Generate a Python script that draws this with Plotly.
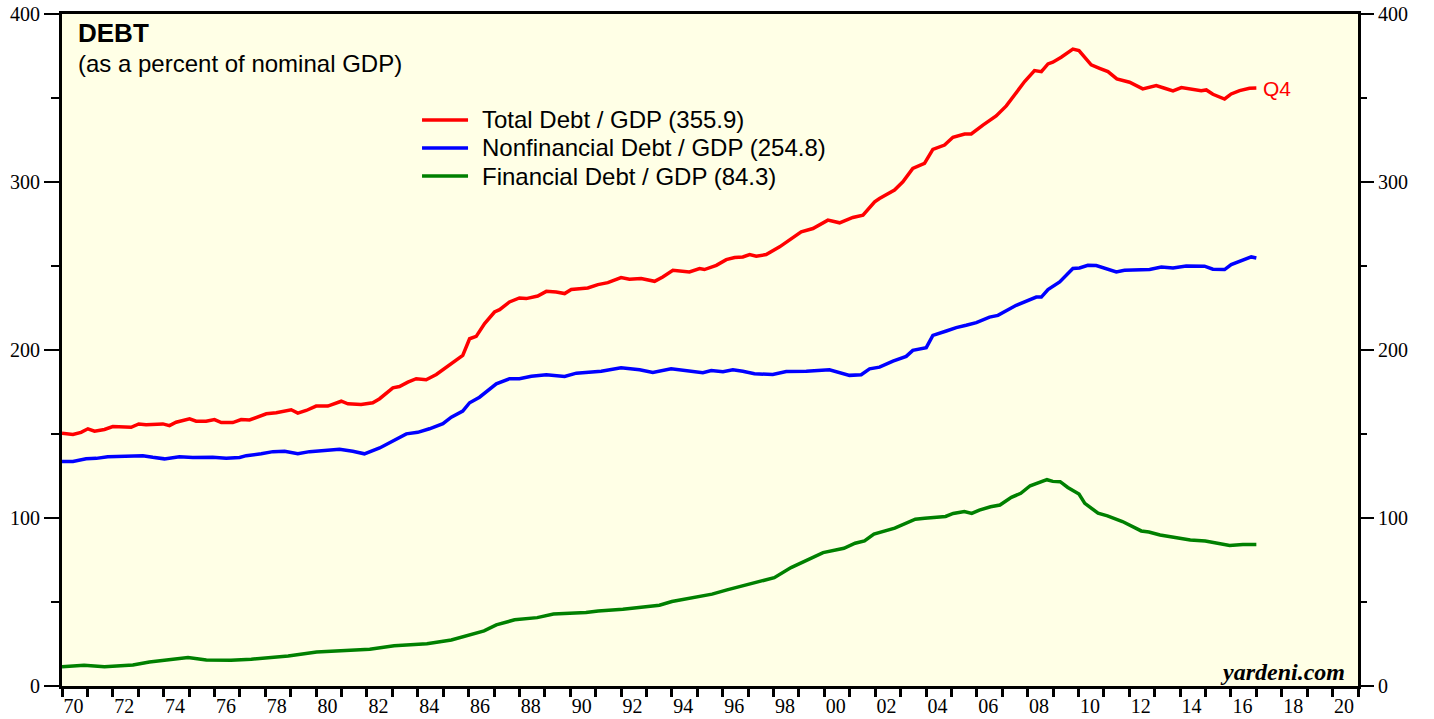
import plotly.graph_objects as go

# Debt as a percent of nominal GDP
total_years = [1970.0, 1970.43, 1970.75, 1971.02, 1971.28, 1971.67, 1972.0, 1972.72, 1973.02, 1973.31,
               1973.97, 1974.23, 1974.49, 1975.02, 1975.28, 1975.67, 1976.0, 1976.27, 1976.72, 1977.05,
               1977.38, 1977.77, 1978.04, 1978.43, 1979.02, 1979.28, 1979.61, 1980.0, 1980.46, 1980.99,
               1981.25, 1981.77, 1982.23, 1982.5, 1983.02, 1983.28, 1983.61, 1983.94, 1984.33, 1984.73,
               1985.18, 1985.77, 1986.04, 1986.3, 1986.63, 1987.02, 1987.22, 1987.61, 1988.0, 1988.27,
               1988.72, 1989.06, 1989.45, 1989.78, 1990.04, 1990.69, 1991.09, 1991.48, 1992.0, 1992.33,
               1992.79, 1993.32, 1993.64, 1994.04, 1994.69, 1995.09, 1995.28, 1995.75, 1996.14, 1996.47,
               1996.79, 1997.06, 1997.32, 1997.71, 1998.24, 1998.63, 1999.09, 1999.55, 2000.14, 2000.6,
               2001.12, 2001.52, 2001.98, 2002.17, 2002.76, 2003.09, 2003.48, 2003.94, 2004.27, 2004.73,
               2005.06, 2005.52, 2005.78, 2006.24, 2006.76, 2007.16, 2007.55, 2007.88, 2008.27, 2008.54,
               2008.8, 2008.99, 2009.32, 2009.58, 2009.78, 2010.02, 2010.24, 2010.5, 2010.83, 2011.16,
               2011.51, 2012.01, 2012.53, 2013.06, 2013.39, 2013.72, 2014.05, 2014.44, 2014.83, 2015.03,
               2015.29, 2015.75, 2016.01, 2016.34, 2016.73, 2017.0]
total_debt = [150.4, 149.7, 151.0, 153.1, 151.7, 152.7, 154.4, 154.0, 156.0, 155.5,
              156.0, 155.0, 157.0, 159.0, 157.6, 157.6, 158.6, 156.8, 156.8, 158.6,
              158.4, 160.4, 162.0, 162.6, 164.4, 162.4, 164.0, 166.6, 166.6, 169.5,
              168.0, 167.6, 168.6, 171.0, 177.5, 178.3, 180.9, 182.9, 182.3, 185.4,
              190.2, 196.8, 206.7, 208.1, 215.7, 222.6, 224.0, 228.6, 231.0, 230.6,
              232.1, 234.9, 234.5, 233.6, 236.0, 236.9, 238.9, 240.1, 243.1, 242.1,
              242.5, 240.9, 243.5, 247.5, 246.5, 248.5, 247.9, 250.4, 253.8, 255.0,
              255.4, 256.8, 255.8, 256.8, 261.4, 265.4, 270.3, 272.3, 277.3, 275.7,
              278.9, 280.2, 288.2, 290.2, 295.2, 300.1, 308.1, 311.1, 319.4, 322.0,
              326.6, 328.6, 328.6, 333.9, 339.3, 345.3, 352.8, 359.8, 366.3, 365.7,
              370.3, 371.3, 374.3, 376.7, 379.1, 378.2, 374.3, 369.7, 367.7, 365.7,
              361.4, 359.4, 355.4, 357.4, 355.8, 354.2, 356.2, 355.4, 354.4, 354.8,
              352.2, 349.4, 352.4, 354.4, 355.8, 355.9]

nonfin_years = [1970.0, 1970.43, 1970.95, 1971.35, 1971.8, 1972.26, 1973.18, 1973.57, 1974.03, 1974.62,
                1975.15, 1975.93, 1976.46, 1976.99, 1977.25, 1977.84, 1978.3, 1978.76, 1979.28, 1979.74,
                1980.46, 1980.92, 1981.44, 1981.9, 1982.5, 1983.02, 1983.55, 1984.0, 1984.46, 1984.99,
                1985.32, 1985.77, 1986.04, 1986.43, 1986.76, 1987.09, 1987.61, 1988.0, 1988.47, 1989.06,
                1989.78, 1990.24, 1991.22, 1992.0, 1992.73, 1993.25, 1993.97, 1994.63, 1995.22, 1995.55,
                1996.01, 1996.4, 1996.79, 1997.25, 1997.97, 1998.5, 1999.29, 2000.2, 2000.6, 2000.99,
                2001.45, 2001.78, 2002.17, 2002.7, 2003.22, 2003.48, 2004.01, 2004.27, 2004.8, 2005.19,
                2005.58, 2005.98, 2006.5, 2006.83, 2007.55, 2007.94, 2008.34, 2008.54, 2008.8, 2009.26,
                2009.78, 2010.04, 2010.37, 2010.7, 2011.22, 2011.49, 2011.81, 2012.53, 2012.8, 2013.26,
                2013.72, 2014.24, 2014.96, 2015.29, 2015.75, 2016.01, 2016.34, 2016.8, 2017.0]
nonfin_debt = [133.6, 133.6, 135.2, 135.5, 136.4, 136.7, 137.1, 136.1, 135.2, 136.4,
               136.0, 136.1, 135.5, 136.0, 137.1, 138.2, 139.5, 139.7, 138.2, 139.5,
               140.1, 140.9, 139.7, 138.2, 141.7, 146.1, 150.1, 151.0, 153.1, 156.1,
               160.0, 163.6, 168.6, 171.9, 175.9, 179.9, 182.9, 182.9, 184.4, 185.3,
               184.3, 186.2, 187.4, 189.4, 188.2, 186.6, 188.8, 187.4, 186.5, 187.8,
               187.1, 188.2, 187.4, 185.9, 185.4, 187.2, 187.4, 188.2, 186.5, 184.9,
               185.3, 188.8, 189.8, 193.4, 196.2, 199.8, 201.4, 208.7, 211.3, 213.3,
               214.7, 216.3, 219.6, 220.6, 226.6, 229.2, 231.5, 231.5, 236.0, 240.5,
               248.5, 248.8, 250.4, 250.3, 248.1, 246.5, 247.5, 247.9, 247.9, 249.4,
               248.8, 250.0, 249.9, 248.1, 247.9, 250.9, 252.8, 255.4, 254.8]

fin_years = [1970.0, 1970.87, 1971.67, 1972.31, 1972.79, 1973.44, 1974.16, 1974.96, 1975.68, 1976.65,
             1977.45, 1978.1, 1978.9, 1980.02, 1981.15, 1982.11, 1983.07, 1984.36, 1985.32, 1986.61,
             1987.09, 1987.81, 1988.7, 1989.34, 1990.62, 1991.1, 1992.07, 1992.87, 1993.51, 1994.0,
             1994.48, 1995.09, 1995.58, 1996.17, 1996.92, 1997.51, 1998.03, 1998.69, 1999.29, 1999.95,
             2000.77, 2001.21, 2001.58, 2001.95, 2002.77, 2003.58, 2003.95, 2004.77, 2005.07, 2005.51,
             2005.8, 2006.1, 2006.54, 2006.91, 2007.36, 2007.73, 2008.1, 2008.39, 2008.76, 2008.99,
             2009.28, 2009.58, 2010.02, 2010.25, 2010.77, 2011.14, 2011.73, 2012.47, 2012.77, 2013.21,
             2013.88, 2014.4, 2014.99, 2015.21, 2015.95, 2016.47, 2017.0]
fin_debt = [11.5, 12.3, 11.5, 12.3, 12.5, 14.3, 15.3, 16.9, 15.5, 15.3,
            15.9, 16.9, 17.9, 20.3, 20.9, 21.9, 23.9, 25.2, 27.4, 32.8,
            36.4, 39.4, 40.7, 42.8, 43.7, 44.7, 45.7, 47.3, 48.1, 50.3,
            51.7, 53.5, 54.7, 57.2, 60.2, 62.2, 64.5, 70.5, 74.9, 79.4,
            82.0, 85.0, 86.4, 90.4, 94.0, 99.3, 99.9, 100.9, 102.7, 103.9,
            102.7, 104.7, 106.7, 107.7, 112.3, 114.7, 119.2, 120.8, 122.8, 121.8,
            121.6, 118.2, 114.3, 108.7, 102.9, 101.3, 97.9, 92.3, 91.7, 89.9,
            88.3, 86.9, 86.3, 85.7, 83.7, 84.3, 84.3]

# axis ticks
year_ticks = list(range(1970, 2022))
label_years = list(range(1970, 2022, 2))
label_text = [str(y)[2:] for y in label_years]
y_ticks = [0, 100, 200, 300, 400]

series = [
    ("Total Debt / GDP", total_years, total_debt, "#FF0000"),
    ("Nonfinancial Debt / GDP", nonfin_years, nonfin_debt, "#0000FF"),
    ("Financial Debt / GDP", fin_years, fin_debt, "#008000"),
]

fig = go.Figure()

for name, xs, ys, color in series:
    fig.add_trace(go.Scatter(x=xs, y=ys, mode="lines", name=name,
                             line=dict(color=color, width=3.5), showlegend=False))

# home-made legend (long line samples like the original)
legend_y = [0.8423, 0.8006, 0.7589]
for (name, xs, ys, color), ly in zip(series, legend_y):
    fig.add_shape(type="line", xref="paper", yref="paper", x0=0.2778, x1=0.3133, y0=ly, y1=ly,
                  line=dict(color=color, width=3.5))
    fig.add_annotation(xref="paper", yref="paper", x=0.3225, y=ly, xanchor="left", yanchor="middle",
                       text=f"{name} ({ys[-1]:.1f})", showarrow=False,
                       font=dict(family="Liberation Sans, Arial", size=24, color="black"))

fig.add_annotation(x=total_years[-1], y=total_debt[-1], xanchor="left", yanchor="middle", xshift=5,
                   text="Q4", showarrow=False,
                   font=dict(family="Liberation Sans, Arial", size=21, color="#FF0000"))

fig.add_annotation(xref="paper", yref="paper", x=0.011, y=0.972, xanchor="left", yanchor="middle",
                   text="<b>DEBT</b>", showarrow=False,
                   font=dict(family="Liberation Sans, Arial", size=26, color="black"))
fig.add_annotation(xref="paper", yref="paper", x=0.011, y=0.927, xanchor="left", yanchor="middle",
                   text="(as a percent of nominal GDP)", showarrow=False,
                   font=dict(family="Liberation Sans, Arial", size=24, color="black"))
fig.add_annotation(xref="paper", yref="paper", x=0.9915, y=0.021, xanchor="right", yanchor="middle",
                   text="<b><i>yardeni.com</i></b>", showarrow=False,
                   font=dict(family="Liberation Serif, Times New Roman", size=24, color="black"))

tick_font = dict(family="Liberation Serif, Times New Roman", size=20, color="black")

fig.update_layout(
    width=1434, height=719,
    margin=dict(l=62, r=76, t=14, b=33, autoexpand=False),
    paper_bgcolor="white",
    plot_bgcolor="#FFFFE6",
    xaxis=dict(range=[1970, 2021], showgrid=False, zeroline=False, automargin=False,
               showline=True, linecolor="black", linewidth=3, mirror=True,
               tickmode="array", tickvals=[y + 0.45 for y in label_years], ticktext=label_text,
               ticks="outside", ticklen=0, tickcolor="rgba(0,0,0,0)", tickfont=tick_font,
               minor=dict(tickmode="array", tickvals=year_ticks, ticks="outside",
                          ticklen=8, tickwidth=3, tickcolor="black")),
    yaxis=dict(range=[0, 400], showgrid=False, zeroline=False, automargin=False,
               showline=True, linecolor="black", linewidth=3, mirror=True,
               tickmode="array", tickvals=y_ticks, ticks="outside", ticklen=15, tickwidth=1.5,
               tickcolor="black", tickfont=tick_font,
               minor=dict(dtick=50, ticks="outside", ticklen=8, tickwidth=1.5, tickcolor="black")),
    yaxis2=dict(range=[0, 400], overlaying="y", side="right", showgrid=False, zeroline=False,
                automargin=False,
                tickmode="array", tickvals=y_ticks, ticks="outside", ticklen=15, tickwidth=1.5,
                tickcolor="black", tickfont=tick_font,
                minor=dict(dtick=50, ticks="outside", ticklen=8, tickwidth=1.5, tickcolor="black")),
)

# invisible trace so the right axis is drawn
fig.add_trace(go.Scatter(x=[total_years[0]], y=[total_debt[0]], yaxis="y2", mode="markers",
                         marker=dict(opacity=0), showlegend=False, hoverinfo="skip"))

# drop the default page margin so the figure sits at the window's corner
fig.write_html("out.html", config={"displayModeBar": False},
               post_script="document.body.style.margin='0px'; document.body.style.overflow='hidden';")
